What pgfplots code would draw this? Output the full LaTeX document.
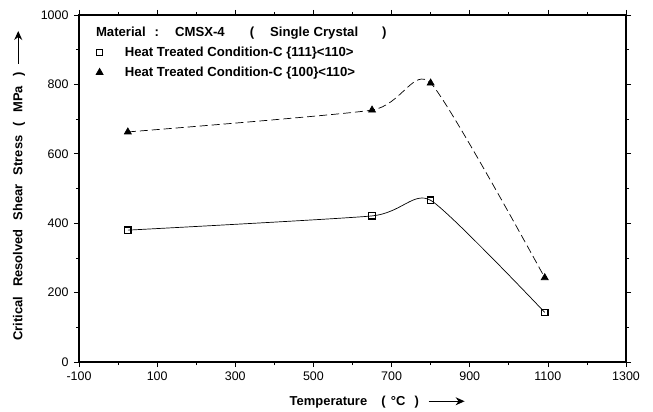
\documentclass[border=0pt]{standalone}
\usepackage{pgfplots}
\pgfplotsset{compat=1.18}
\usepackage{fontspec}
\setmainfont{Liberation Sans}
\usetikzlibrary{arrows.meta}
\newcommand{\longarrow}[1]{\tikz[baseline=-0.6ex]\draw[line width=1.3pt,-{Stealth[length=9pt,width=8pt]}] (0,0)--(#1,0);}
\begin{document}
\begin{tikzpicture}
\begin{axis}[
  name=ax,
  scale only axis,
  width=547bp, height=347bp,
  xmin=-100, xmax=1300, ymin=0, ymax=1000,
  xtick={-100,100,...,1300},
  minor xtick={0,200,...,1200},
  ytick={0,200,...,1000},
  minor ytick={100,300,...,900},
  tick align=outside,
  major tick length=5bp, minor tick length=3bp,
  tick style={black, line width=0.7pt},
  axis line style={line width=1.2pt},
  /pgf/number format/assume math mode=true,
  /pgf/number format/set thousands separator={},
  tick label style={font=\fontsize{12.5}{14}\selectfont},
  xticklabel style={yshift=-1bp},
  yticklabel style={xshift=-2bp},
  xlabel={\textbf{Temperature\hspace{1.1em}(\hspace{0.4em}\textdegree C\hspace{0.7em})}\hspace{0.7em}\longarrow{36bp}},
  ylabel={\textbf{Critical\hspace{0.75em}Resolved\hspace{0.7em}Shear\hspace{0.7em}Stress\hspace{0.7em}(\hspace{0.75em}MPa\hspace{0.7em})}\hspace{0.6em}\longarrow{33bp}},
  every axis x label/.style={at={(axis description cs:0.5457,-0.1153)}, anchor=center, font=\fontsize{13}{15}\selectfont},
  every axis y label/.style={at={(axis description cs:-0.1097,0.509)}, anchor=center, rotate=90, font=\fontsize{13}{15}\selectfont},
  legend style={draw=none, fill=none, at={(axis description cs:0.031,0.972)}, anchor=north west,
    inner sep=0pt, font=\fontsize{13.2}{15}\selectfont\bfseries, row sep=5bp, cells={anchor=west}},
  legend cell align=left,
  legend image code/.code={\draw[#1] plot[only marks] coordinates {(0.1cm,0cm)};},
]
\addlegendimage{empty legend}
\addlegendentry{\hspace{-0.32cm}Material\hspace{9bp}:\hspace{16bp}CMSX-4\hspace{25bp}(\hspace{16bp}Single\hspace{4bp}Crystal\hspace{24bp})}
\addplot[black, line width=0.7pt, smooth, tension=0.35, mark=square, mark size=3.2bp, mark options={solid, line width=1.3pt}]
  coordinates {(25,380) (650,421) (800,466) (1092,143)};
\addlegendentry{\hspace{1.5em}Heat Treated Condition-C \{111\}<110>}
\addplot[black, line width=0.7pt, dash pattern=on 8bp off 4bp, smooth, tension=0.35, mark=triangle*, mark size=4bp, mark options={solid}]
  coordinates {(25,663) (650,726) (800,804) (1092,243)};
\addlegendentry{\hspace{1.5em}Heat Treated Condition-C \{100\}<110>}
\end{axis}
\pgfresetboundingbox
\path ([shift={(-79bp,-50bp)}]ax.south west) rectangle ([shift={(27bp,15bp)}]ax.north east);
\end{tikzpicture}
\end{document}
